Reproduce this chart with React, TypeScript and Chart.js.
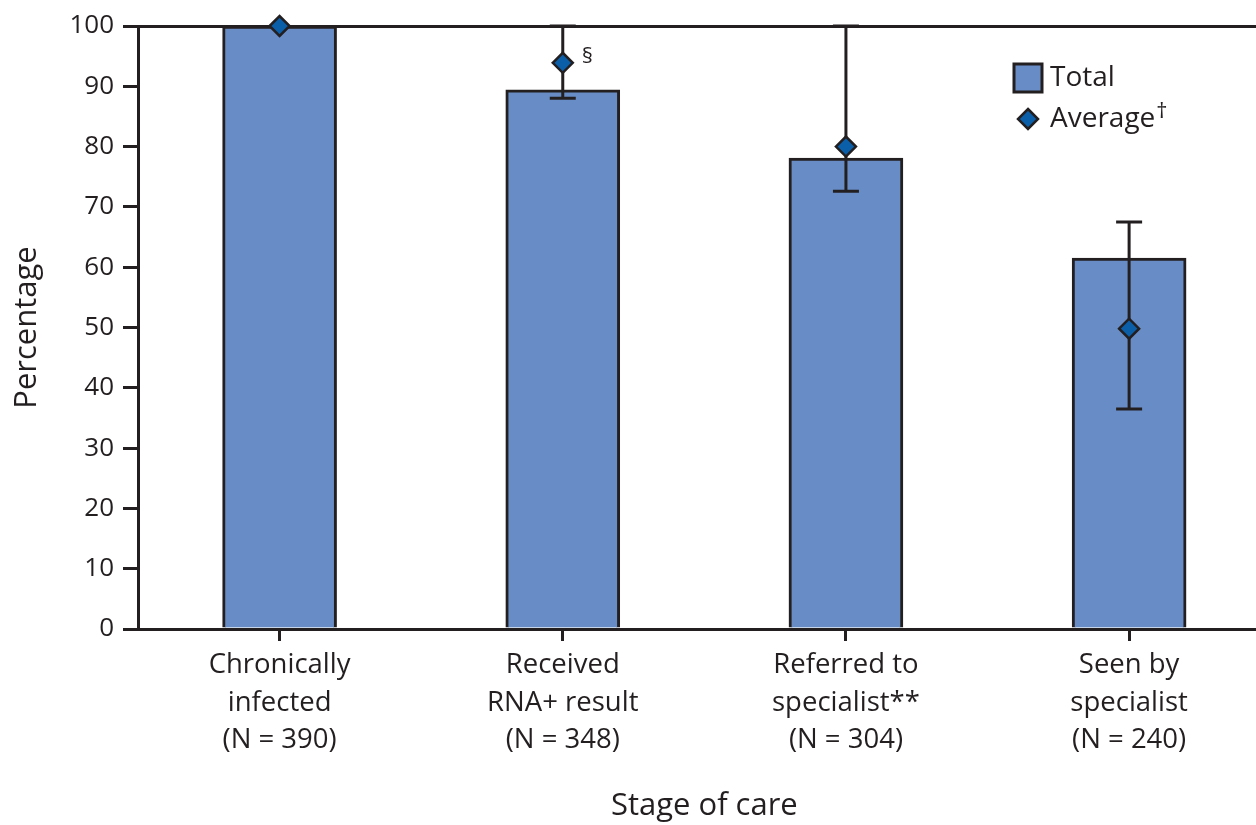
import React, { useEffect, useRef } from 'react';
import { Chart, registerables } from 'chart.js';

Chart.register(...registerables);

const categories: string[][] = [
  ['Chronically', 'infected', '(N = 390)'],
  ['Received', 'RNA+ result', '(N = 348)'],
  ['Referred to', 'specialist**', '(N = 304)'],
  ['Seen by', 'specialist', '(N = 240)'],
];
const totalValues = [100, 89.4, 78.1, 61.5];
const averageValues = [100, 93.9, 80.0, 49.8];
const errorLow: (number | null)[] = [null, 88.0, 72.6, 36.5];
const errorHigh: (number | null)[] = [null, 100, 100, 67.5];
const pointNotes = ['', '§', '', ''];
const yTicks = [0, 10, 20, 30, 40, 50, 60, 70, 80, 90, 100];

const DARK = '#231f20';
const BAR_FILL = '#688dc6';
const DIAMOND_FILL = '#0b5ea8';
const FONT = "'Open Sans', 'Noto Sans', sans-serif";

function diamond(ctx: CanvasRenderingContext2D, x: number, y: number, r: number) {
  ctx.beginPath();
  ctx.moveTo(x, y - r);
  ctx.lineTo(x + r, y);
  ctx.lineTo(x, y + r);
  ctx.lineTo(x - r, y);
  ctx.closePath();
  ctx.fillStyle = DIAMOND_FILL;
  ctx.fill();
  ctx.strokeStyle = DARK;
  ctx.lineWidth = 2.5;
  ctx.stroke();
}

const errorBarPlugin = {
  id: 'errorBars',
  beforeDatasetDraw(chart: any, args: any) {
    if (args.index !== 1) return;
    const { ctx, scales } = chart;
    const x = scales.x;
    const y = scales.y;
    ctx.save();
    ctx.strokeStyle = DARK;
    ctx.lineWidth = 3;
    errorLow.forEach((lo, i) => {
      const hi = errorHigh[i];
      if (lo == null || hi == null) return;
      const cx = x.getPixelForValue(i);
      const yl = y.getPixelForValue(lo);
      const yh = y.getPixelForValue(hi);
      ctx.beginPath();
      ctx.moveTo(cx, yl);
      ctx.lineTo(cx, yh);
      ctx.moveTo(cx - 13, yl);
      ctx.lineTo(cx + 13, yl);
      ctx.moveTo(cx - 13, yh);
      ctx.lineTo(cx + 13, yh);
      ctx.stroke();
    });
    ctx.restore();
  },
  afterDatasetsDraw(chart: any) {
    const { ctx, scales } = chart;
    const x = scales.x;
    const y = scales.y;
    ctx.save();
    ctx.fillStyle = DARK;
    ctx.font = `22px ${FONT}`;
    ctx.textAlign = 'left';
    ctx.textBaseline = 'middle';
    pointNotes.forEach((note, i) => {
      if (!note) return;
      ctx.fillText(note, x.getPixelForValue(i) + 19, y.getPixelForValue(averageValues[i]) - 6);
    });
    ctx.restore();
  },
};

const legendPlugin = {
  id: 'customLegend',
  afterDraw(chart: any) {
    const { ctx } = chart;
    ctx.save();
    ctx.fillStyle = BAR_FILL;
    ctx.fillRect(1014, 64, 28, 28);
    ctx.strokeStyle = DARK;
    ctx.lineWidth = 3;
    ctx.strokeRect(1014, 64, 28, 28);
    diamond(ctx, 1028, 119, 10);
    ctx.fillStyle = DARK;
    ctx.font = `28px ${FONT}`;
    ctx.textAlign = 'left';
    ctx.textBaseline = 'middle';
    ctx.fillText('Total', 1050, 78);
    ctx.fillText('Average', 1050, 119);
    const w = ctx.measureText('Average').width;
    ctx.font = `22px ${FONT}`;
    ctx.fillText('†', 1050 + w + 1, 112);
    ctx.restore();
  },
};

export default function App() {
  const ref = useRef<HTMLCanvasElement | null>(null);
  useEffect(() => {
    document.body.style.margin = '0';
    const canvas = ref.current!;
    const chart = new Chart(canvas, {
      type: 'bar',
      data: {
        labels: categories,
        datasets: [
          {
            type: 'bar',
            label: 'Total',
            data: totalValues,
            backgroundColor: BAR_FILL,
            borderColor: DARK,
            borderWidth: 3,
            barThickness: 114,
            order: 2,
          },
          {
            type: 'line',
            label: 'Average',
            data: averageValues,
            showLine: false,
            pointStyle: 'rectRot',
            pointRadius: 10,
            pointBackgroundColor: DIAMOND_FILL,
            pointBorderColor: DARK,
            pointBorderWidth: 2.5,
            clip: false,
            order: 1,
          } as any,
        ],
      },
      options: {
        responsive: false,
        animation: false,
        devicePixelRatio: 1,
        layout: { padding: { top: 26, right: 29.3, left: 0, bottom: 0 } },
        plugins: {
          legend: { display: false },
          tooltip: { enabled: false },
        },
        scales: {
          x: {
            type: 'category',
            grid: {
              offset: false,
              drawOnChartArea: false,
              drawTicks: true,
              tickLength: 12,
              tickColor: DARK,
              lineWidth: 3,
            },
            border: { display: true, color: DARK, width: 3 },
            ticks: {
              color: DARK,
              font: { family: FONT, size: 27.5, lineHeight: 1.35 },
              padding: 6,
              maxRotation: 0,
              autoSkip: false,
            },
            title: {
              display: true,
              text: 'Stage of care',
              color: DARK,
              font: { family: FONT, size: 31 },
              padding: { top: 0, bottom: 0 },
            },
            afterFit(scale: any) {
              scale.height = 196;
            },
          },
          y: {
            min: 0,
            max: 100,
            grid: {
              color: (c: any) => (c.tick && c.tick.value === 100 ? DARK : 'rgba(0,0,0,0)'),
              tickColor: DARK,
              lineWidth: 3,
              tickLength: 15,
              drawOnChartArea: true,
            },
            border: { display: true, color: DARK, width: 3 },
            ticks: {
              color: DARK,
              font: { family: FONT, size: 26 },
              padding: 9,
            },
            afterBuildTicks(scale: any) {
              scale.ticks = yTicks.map((v) => ({ value: v }));
            },
            title: {
              display: true,
              text: 'Percentage',
              color: DARK,
              font: { family: FONT, size: 31 },
              padding: { top: 9, bottom: 0 },
            },
            afterFit(scale: any) {
              scale.width = 138;
            },
          },
        },
      },
      plugins: [errorBarPlugin, legendPlugin],
    });
    return () => chart.destroy();
  }, []);

  return (
    <div style={{ position: 'absolute', left: 0, top: 0, width: 1256, height: 825, overflow: 'hidden', background: '#fff' }}>
      <canvas ref={ref} width={1300} height={825} style={{ width: 1300, height: 825, display: 'block' }} />
    </div>
  );
}
